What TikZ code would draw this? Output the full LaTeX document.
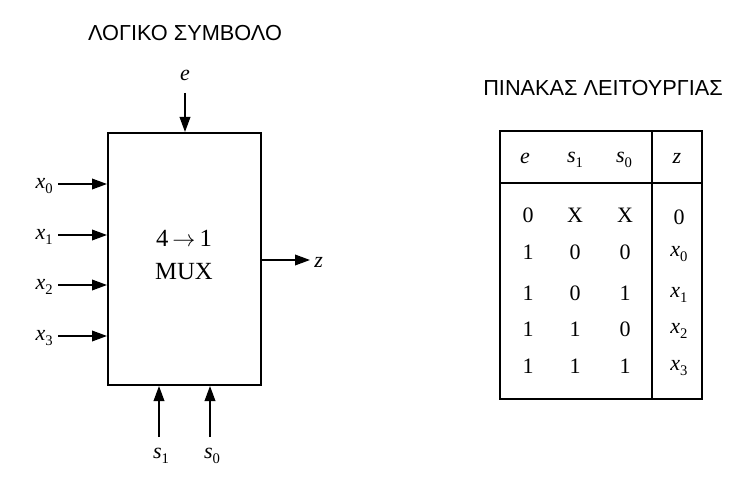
\documentclass[tikz,border=0pt]{standalone}
\usepackage{fontspec}
\setmainfont{Liberation Serif}
\newfontfamily\titlefont{Liberation Sans}
\usetikzlibrary{arrows.meta}
\newcommand\vsub[2]{\textit{#1}\raisebox{-0.45ex}{\fontsize{11}{11}\selectfont #2}}
\begin{document}
\begin{tikzpicture}[x=0.75pt,y=-0.75pt,
  sig/.style={line width=1.1pt,-{Triangle[length=11.25pt,width=8pt]}},
  lbl/.style={inner sep=0pt,font=\fontsize{16.5}{16.5}\selectfont},
  title/.style={inner sep=0pt,font=\titlefont\fontsize{16.3}{16.3}\selectfont},
  frame/.style={line width=1.5pt}]
\useasboundingbox (0,0) rectangle (754,485);
% logic symbol
\node[title] (t1) at (185,33) {ΛΟΓΙΚΟ ΣΥΜΒΟΛΟ};
\node[frame,draw,minimum width=114.75pt,minimum height=189pt,inner sep=0pt] (mux) at (184.5,259) {};
\node[lbl,font=\fontsize{18.5}{18.5}\selectfont] (n41) at (184,238) {4\,$\rightarrow$\,1};
\node[lbl,font=\fontsize{18.5}{18.5}\selectfont] (muxt) at (184,272) {MUX};
% enable
\node[lbl] (e) at (185,75) {\textit{e}};
\coordinate (etop) at (185,93);
\draw[sig] (etop) -- (mux.north -| etop);
% data inputs
\foreach \i/\y in {0/184,1/235,2/285,3/336}{
  \node[lbl,anchor=east] (x\i) at (53,\y+2) {\vsub{x}{\i}};
  \coordinate (xs\i) at (58,\y);
  \draw[sig] (xs\i) -- (mux.west |- xs\i);
}
% output
\coordinate (zo) at (310,260);
\draw[sig] (mux.east |- zo) -- (zo);
\node[lbl,anchor=west] (z) at (314,262) {\textit{z}};
% selects
\coordinate (s1b) at (159,437);
\coordinate (s0b) at (210,437);
\draw[sig] (s1b) -- (mux.south -| s1b);
\draw[sig] (s0b) -- (mux.south -| s0b);
\node[lbl] (s1) at (161,456) {\vsub{s}{1}};
\node[lbl] (s0) at (212,456) {\vsub{s}{0}};
% function table
\node[title] (t2) at (603,88) {ΠΙΝΑΚΑΣ ΛΕΙΤΟΥΡΓΙΑΣ};
\draw[frame] (500,131) rectangle (702,399);
\draw[frame] (500,183) -- (702,183);
\draw[frame] (652,131) -- (652,399);
\node[lbl] (he) at (525,158) {\textit{e}};
\node[lbl] (hs1) at (575,160) {\vsub{s}{1}};
\node[lbl] (hs0) at (624,160) {\vsub{s}{0}};
\node[lbl] (hz) at (677,158) {\textit{z}};
\foreach \a/\b/\c/\d/\y [count=\k] in {0/X/X/0/215, 1/0/0/\vsub{x}{0}/252, 1/0/1/\vsub{x}{1}/293, 1/1/0/\vsub{x}{2}/329, 1/1/1/\vsub{x}{3}/366}{
  \node[lbl] (ra\k) at (528,\y) {\a};
  \node[lbl] (rb\k) at (575,\y) {\b};
  \node[lbl] (rc\k) at (625,\y) {\c};
  \node[lbl] (rd\k) at (679,\y+2) {\d};
}
\end{tikzpicture}
\end{document}
